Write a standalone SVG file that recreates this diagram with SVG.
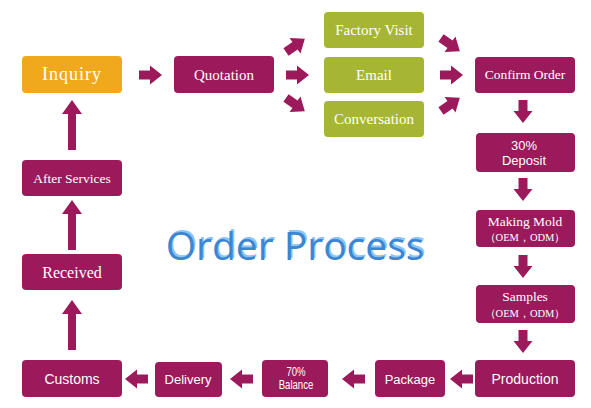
<svg xmlns="http://www.w3.org/2000/svg" xmlns:xlink="http://www.w3.org/1999/xlink" width="591" height="408" viewBox="0 0 591 408">
<style>
.m{fill:#9c1a5b}
.g{fill:#a6b634}
.o{fill:#f0a91c}
.t{fill:#fff;font-family:"Liberation Serif",serif;text-anchor:middle}
.s{fill:#fff;font-family:"Liberation Sans",sans-serif;text-anchor:middle}
.a{fill:#9c1a5b}
</style>
<defs>
<polygon id="ar" points="0,-4.5 11,-4.5 11,-9.5 23,0 11,9.5 11,4.5 0,4.5"/>
</defs>
<rect width="591" height="408" fill="#fff"/>
<g id="title">
<text x="296.5" y="258" font-family="'Open Sans','DejaVu Sans',sans-serif" font-size="39" text-anchor="middle" fill="#8cc4f4">Order Process</text>
<text x="295" y="259.5" font-family="'Open Sans','DejaVu Sans',sans-serif" font-size="39" text-anchor="middle" fill="#3b86d2">Order Process</text>
</g>
<g id="inquiry"><rect class="o" x="22" y="56" width="100" height="37" rx="4"/><text class="t" x="72" y="80" font-size="18" letter-spacing="1">Inquiry</text></g>
<g id="quotation"><rect class="m" x="174" y="56" width="100" height="37" rx="4"/><text class="t" x="224" y="80" font-size="15">Quotation</text></g>
<g id="factory"><rect class="g" x="324" y="12" width="100" height="36" rx="4"/><text class="t" x="374" y="35" font-size="15">Factory Visit</text></g>
<g id="email"><rect class="g" x="324" y="57" width="100" height="36" rx="4"/><text class="t" x="374" y="80" font-size="15">Email</text></g>
<g id="conversation"><rect class="g" x="324" y="101" width="100" height="36" rx="4"/><text class="t" x="374" y="124" font-size="15">Conversation</text></g>
<g id="confirm"><rect class="m" x="475" y="57" width="100" height="36" rx="4"/><text class="t" x="525" y="79" font-size="13.5">Confirm Order</text></g>
<g id="deposit"><rect class="m" x="476" y="133" width="99" height="39" rx="4"/><text class="s" x="524" y="150" font-size="13">30%</text><text class="s" x="524" y="165" font-size="13">Deposit</text></g>
<g id="mold"><rect class="m" x="476" y="210" width="99" height="37" rx="4"/><text class="t" x="525" y="226" font-size="13.5">Making Mold</text><text class="t" x="525" y="241" font-size="10.5">（OEM，ODM）</text></g>
<g id="samples"><rect class="m" x="476" y="285" width="99" height="38" rx="4"/><text class="t" x="525" y="301" font-size="13.5">Samples</text><text class="t" x="525" y="317" font-size="10.5">（OEM，ODM）</text></g>
<g id="production"><rect class="m" x="475" y="360" width="100" height="37" rx="4"/><text class="s" x="525" y="384" font-size="14">Production</text></g>
<g id="package"><rect class="m" x="375" y="360" width="70" height="37" rx="4"/><text class="s" x="410" y="384" font-size="13">Package</text></g>
<g id="balance"><rect class="m" x="262" y="360" width="66" height="37" rx="4"/><text class="s" x="296" y="376" font-size="12" transform="translate(296 0) scale(0.8 1) translate(-296 0)">70%</text><text class="s" x="296" y="389" font-size="12" transform="translate(296 0) scale(0.8 1) translate(-296 0)">Balance</text></g>
<g id="delivery"><rect class="m" x="155" y="362" width="67" height="35" rx="4"/><text class="s" x="188" y="384" font-size="13">Delivery</text></g>
<g id="customs"><rect class="m" x="22" y="360" width="100" height="37" rx="4"/><text class="s" x="72" y="384" font-size="14">Customs</text></g>
<g id="received"><rect class="m" x="22" y="254" width="100" height="36" rx="4"/><text class="t" x="72" y="278" font-size="16">Received</text></g>
<g id="after"><rect class="m" x="22" y="160" width="100" height="36" rx="4"/><text class="t" x="72" y="183" font-size="13.5">After Services</text></g>
<g id="connectors" class="a">
<use xlink:href="#ar" transform="translate(139 75)"/>
<use xlink:href="#ar" transform="translate(286 52) rotate(-35)"/>
<use xlink:href="#ar" transform="translate(286 75)"/>
<use xlink:href="#ar" transform="translate(286 98) rotate(35)"/>
<use xlink:href="#ar" transform="translate(441 38) rotate(35)"/>
<use xlink:href="#ar" transform="translate(440 75)"/>
<use xlink:href="#ar" transform="translate(441 111) rotate(-35)"/>
<use xlink:href="#ar" transform="translate(523 100) rotate(90)"/>
<use xlink:href="#ar" transform="translate(523 178) rotate(90)"/>
<use xlink:href="#ar" transform="translate(523 255) rotate(90)"/>
<use xlink:href="#ar" transform="translate(523 330) rotate(90)"/>
<use xlink:href="#ar" transform="translate(473 379) rotate(180)"/>
<use xlink:href="#ar" transform="translate(365 379) rotate(180)"/>
<use xlink:href="#ar" transform="translate(253 379) rotate(180)"/>
<use xlink:href="#ar" transform="translate(148 379) rotate(180)"/>
<polygon points="68,150 76,150 76,114 82,114 72,100 62,114 68,114"/>
<polygon points="68,250 76,250 76,214 82,214 72,200 62,214 68,214"/>
<polygon points="68,350 76,350 76,314 82,314 72,300 62,314 68,314"/>
</g>
</svg>
